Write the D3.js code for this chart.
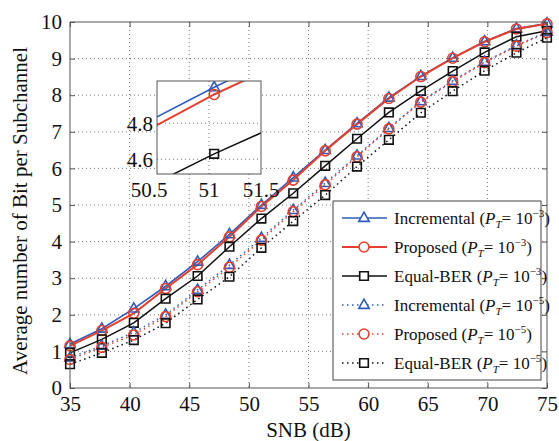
<!DOCTYPE html>
<html>
<head>
<meta charset="utf-8">
<script src="https://cdn.jsdelivr.net/npm/d3@7"></script>
<style>
  html, body { margin: 0; padding: 0; background: #fff; }
  svg { display: block; }
  svg text { font-family: "Liberation Serif", "Times New Roman", Times, "DejaVu Serif", serif; }
</style>
</head>
<body>
<svg width="559" height="441"></svg>
<script>
// values
const snb = [35, 37.67, 40.35, 43.02, 45.7, 48.37, 51.05, 53.72, 56.4, 59.07, 61.74, 64.42, 67.09, 69.77, 72.44, 75];
const incr3 = [1.2, 1.62, 2.17, 2.78, 3.45, 4.2, 5.0, 5.75, 6.5, 7.23, 7.93, 8.52, 9.02, 9.47, 9.82, 9.96];
const prop3 = [1.15, 1.57, 2.04, 2.72, 3.37, 4.13, 4.96, 5.68, 6.48, 7.21, 7.91, 8.51, 9.01, 9.46, 9.81, 9.95];
const eq3 = [0.96, 1.33, 1.78, 2.44, 3.06, 3.86, 4.63, 5.32, 6.07, 6.81, 7.53, 8.12, 8.66, 9.17, 9.6, 9.76];
const incr5 = [0.83, 1.15, 1.52, 2.0, 2.68, 3.36, 4.1, 4.86, 5.6, 6.35, 7.1, 7.83, 8.39, 8.91, 9.36, 9.73];
const prop5 = [0.78, 1.11, 1.45, 1.95, 2.63, 3.3, 4.04, 4.82, 5.55, 6.32, 7.08, 7.81, 8.37, 8.89, 9.34, 9.71];
const eq5 = [0.65, 0.96, 1.31, 1.77, 2.42, 3.04, 3.83, 4.56, 5.27, 6.05, 6.78, 7.52, 8.11, 8.67, 9.16, 9.57];

const xTicks = [35, 40, 45, 50, 55, 60, 65, 70, 75];
const yTicks = [0, 1, 2, 3, 4, 5, 6, 7, 8, 9, 10];
const insetXTicks = [50.5, 51, 51.5];
const insetYTicks = [4.6, 4.8];

const BLUE = '#2f5cb8', RED = '#e5402f', BLACK = '#111';

const series = [
  { name: 'Incremental', exp: '\u22123', vals: incr3, color: BLUE, marker: 'tri', dotted: false, lw: 1.6 },
  { name: 'Proposed', exp: '\u22123', vals: prop3, color: RED, marker: 'circ', dotted: false, lw: 2 },
  { name: 'Equal-BER', exp: '\u22123', vals: eq3, color: BLACK, marker: 'sq', dotted: false, lw: 1.5 },
  { name: 'Incremental', exp: '\u22125', vals: incr5, color: BLUE, marker: 'tri', dotted: true, lw: 1.5 },
  { name: 'Proposed', exp: '\u22125', vals: prop5, color: RED, marker: 'circ', dotted: true, lw: 1.5 },
  { name: 'Equal-BER', exp: '\u22125', vals: eq5, color: BLACK, marker: 'sq', dotted: true, lw: 1.5 },
];

const svg = d3.select('svg');
const M = { left: 70, right: 547, top: 22, bottom: 388 };

const x = d3.scaleLinear().domain([35, 75]).range([M.left, M.right]);
const y = d3.scaleLinear().domain([0, 10]).range([M.bottom, M.top]);

const markerPath = (type) => {
  if (type === 'tri') return 'M0,-5.8L5.2,3.4L-5.2,3.4Z';
  if (type === 'sq') return 'M-4.3,-4.3H4.3V4.3H-4.3Z';
  return d3.symbol(d3.symbolCircle, Math.PI * 25)();
};

// grid
const grid = svg.append('g');
grid.selectAll('.gx').data(xTicks.slice(1, -1)).enter().append('line')
  .attr('x1', d => x(d)).attr('x2', d => x(d))
  .attr('y1', M.top).attr('y2', M.bottom)
  .attr('stroke', '#777').attr('stroke-width', 1).attr('stroke-dasharray', '1,3');
grid.selectAll('.gy').data(yTicks.slice(1, -1)).enter().append('line')
  .attr('y1', d => y(d)).attr('y2', d => y(d))
  .attr('x1', M.left).attr('x2', M.right)
  .attr('stroke', '#777').attr('stroke-width', 1).attr('stroke-dasharray', '1,3');

function drawSeries(g, xs, ys) {
  const line = d3.line().x((d, i) => xs(snb[i])).y(d => ys(d));
  series.forEach(s => {
    g.append('path')
      .datum(s.vals)
      .attr('d', line)
      .attr('fill', 'none')
      .attr('stroke', s.color)
      .attr('stroke-width', s.lw)
      .attr('stroke-dasharray', s.dotted ? '1.5,3.5' : null);
  });
  series.forEach(s => {
    g.selectAll(null).data(s.vals).enter().append('path')
      .attr('d', markerPath(s.marker))
      .attr('transform', (d, i) => `translate(${xs(snb[i])},${ys(d)})`)
      .attr('fill', 'none')
      .attr('stroke', s.color)
      .attr('stroke-width', 1.6);
  });
}

drawSeries(svg.append('g'), x, y);

// axes with inward ticks on all sides
const axisColor = '#555';
const fontSize = 21;
const xAxis = svg.append('g').attr('transform', `translate(0,${M.bottom})`)
  .call(d3.axisBottom(x).tickValues(xTicks).tickSizeInner(-5).tickSizeOuter(0).tickPadding(8));
const xTop = svg.append('g').attr('transform', `translate(0,${M.top})`)
  .call(d3.axisTop(x).tickValues(xTicks).tickSizeInner(-5).tickSizeOuter(0).tickFormat(''));
const yAxis = svg.append('g').attr('transform', `translate(${M.left},0)`)
  .call(d3.axisLeft(y).tickValues(yTicks).tickSizeInner(-5).tickSizeOuter(0).tickPadding(8));
const yRight = svg.append('g').attr('transform', `translate(${M.right},0)`)
  .call(d3.axisRight(y).tickValues(yTicks).tickSizeInner(-5).tickSizeOuter(0).tickFormat(''));
[xAxis, xTop, yAxis, yRight].forEach(a => {
  a.select('.domain').remove();
  a.selectAll('line').attr('stroke', axisColor);
  a.selectAll('text').attr('font-size', fontSize).attr('fill', '#111');
});
svg.append('rect')
  .attr('x', M.left).attr('y', M.top)
  .attr('width', M.right - M.left).attr('height', M.bottom - M.top)
  .attr('fill', 'none').attr('stroke', axisColor).attr('stroke-width', 1);

// axis titles
svg.append('text')
  .attr('x', (M.left + M.right) / 2).attr('y', 437)
  .attr('text-anchor', 'middle').attr('font-size', 21).attr('fill', '#111')
  .text('SNB (dB)');
svg.append('text')
  .attr('transform', `translate(27,${(M.top + M.bottom) / 2 + 6}) rotate(-90)`)
  .attr('text-anchor', 'middle').attr('font-size', 21).attr('fill', '#111')
  .text('Average number of Bit per Subchannel');

// inset
const IN = { left: 157, right: 261, top: 81, bottom: 174 };
const ix = d3.scaleLinear().domain([50.5, 51.5]).range([IN.left, IN.right]);
const iy = d3.scaleLinear().domain([4.518, 5.035]).range([IN.bottom, IN.top]);
const inset = svg.append('g');
inset.append('rect')
  .attr('x', IN.left).attr('y', IN.top)
  .attr('width', IN.right - IN.left).attr('height', IN.bottom - IN.top)
  .attr('fill', '#fff');
svg.append('clipPath').attr('id', 'inclip').append('rect')
  .attr('x', IN.left).attr('y', IN.top)
  .attr('width', IN.right - IN.left).attr('height', IN.bottom - IN.top);
const ig = inset.append('g').attr('clip-path', 'url(#inclip)');
ig.selectAll('.igx').data([51]).enter().append('line')
  .attr('x1', d => ix(d)).attr('x2', d => ix(d))
  .attr('y1', IN.top).attr('y2', IN.bottom)
  .attr('stroke', '#777').attr('stroke-dasharray', '1,3');
ig.selectAll('.igy').data(insetYTicks).enter().append('line')
  .attr('y1', d => iy(d)).attr('y2', d => iy(d))
  .attr('x1', IN.left).attr('x2', IN.right)
  .attr('stroke', '#777').attr('stroke-dasharray', '1,3');
drawSeries(ig, ix, iy);
inset.append('rect')
  .attr('x', IN.left).attr('y', IN.top)
  .attr('width', IN.right - IN.left).attr('height', IN.bottom - IN.top)
  .attr('fill', 'none').attr('stroke', axisColor).attr('stroke-width', 1);
inset.selectAll('.ixl').data(insetXTicks).enter().append('text')
  .attr('x', (d, i) => ix(d) + (i === 0 ? -8 : 0))
  .attr('y', IN.bottom + 23)
  .attr('text-anchor', 'middle').attr('font-size', fontSize).attr('fill', '#111')
  .text(d => d);
inset.selectAll('.iyl').data(insetYTicks).enter().append('text')
  .attr('x', IN.left - 4).attr('y', d => iy(d)).attr('dy', '0.35em')
  .attr('text-anchor', 'end').attr('font-size', fontSize).attr('fill', '#111')
  .text(d => d);

// legend
const L = { left: 333, right: 541, top: 201, bottom: 380 };
const lg = svg.append('g');
lg.append('rect')
  .attr('x', L.left).attr('y', L.top)
  .attr('width', L.right - L.left).attr('height', L.bottom - L.top)
  .attr('fill', '#fff').attr('stroke', '#444').attr('stroke-width', 1);
const rowY = d3.scalePoint().domain(d3.range(series.length)).range([218, 363]);
series.forEach((s, i) => {
  const yy = rowY(i);
  lg.append('line')
    .attr('x1', 342).attr('x2', 387).attr('y1', yy).attr('y2', yy)
    .attr('stroke', s.color).attr('stroke-width', s.lw)
    .attr('stroke-dasharray', s.dotted ? '1.5,3.5' : null);
  lg.append('path')
    .attr('d', markerPath(s.marker))
    .attr('transform', `translate(364,${yy})`)
    .attr('fill', '#fff').attr('stroke', s.color).attr('stroke-width', 1.6);
  const t = lg.append('text')
    .attr('x', 394).attr('y', yy + 5.5)
    .attr('font-size', 17).attr('fill', '#111');
  t.append('tspan').text(s.name + ' (');
  t.append('tspan').attr('font-style', 'italic').text('P');
  t.append('tspan').attr('font-style', 'italic').attr('font-size', 11).attr('dy', 4).text('T');
  t.append('tspan').attr('dy', -4).text('= 10');
  t.append('tspan').attr('font-size', 11).attr('dy', -7).text(s.exp);
  t.append('tspan').attr('dy', 7).text(')');
});
</script>
</body>
</html>
